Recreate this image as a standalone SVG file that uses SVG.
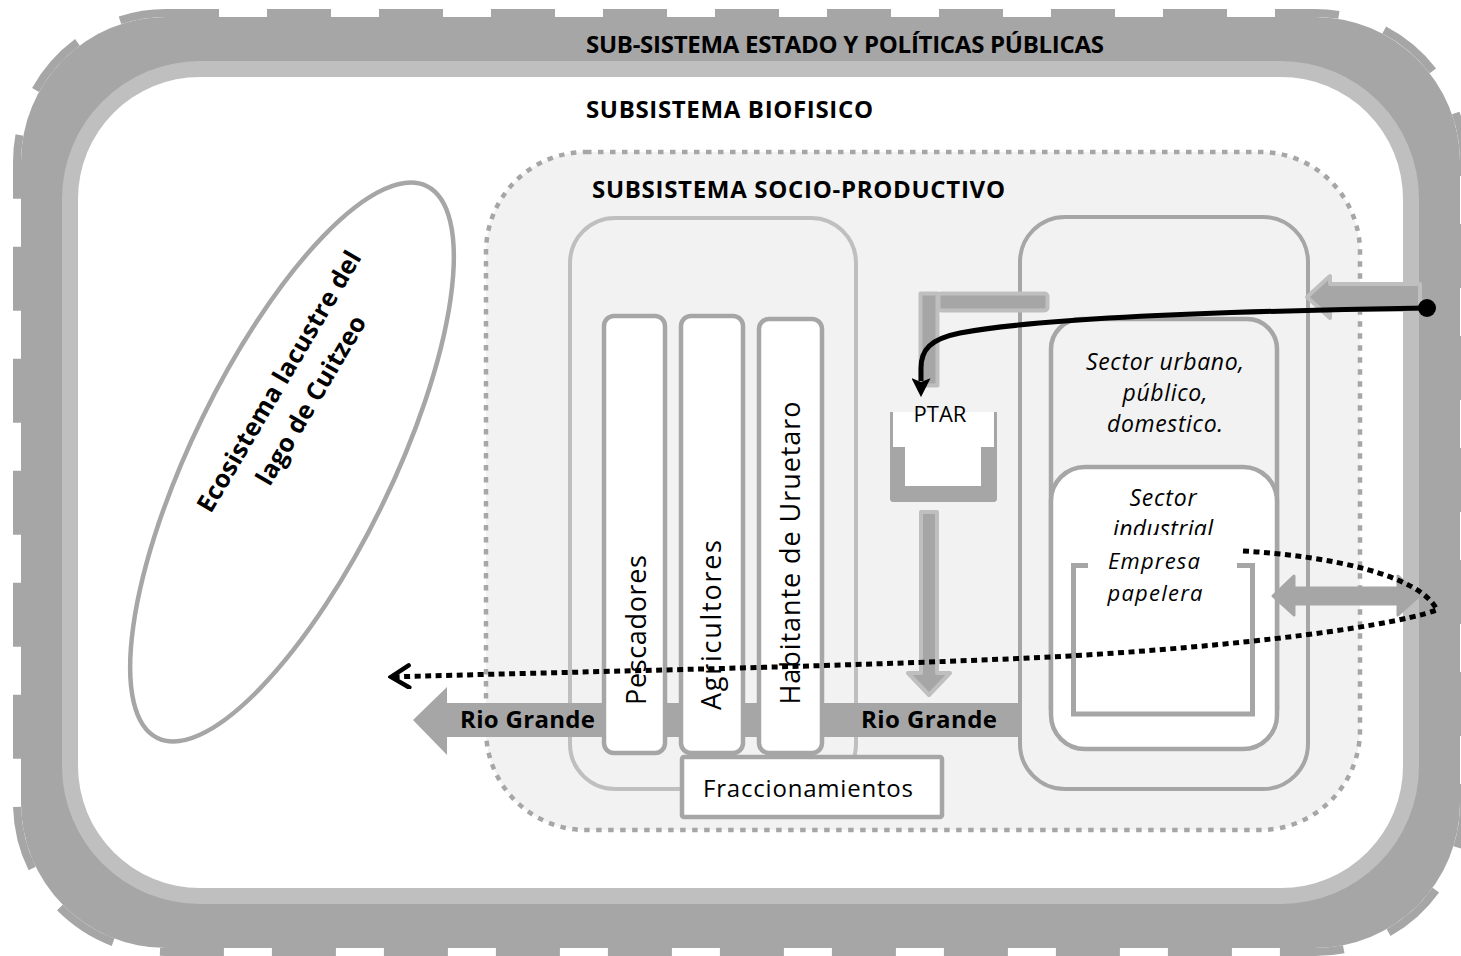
<svg xmlns="http://www.w3.org/2000/svg" width="1461" height="956" viewBox="0 0 1461 956">
<defs>
<style>
.t{font-family:"Open Sans","Noto Sans","DejaVu Sans",sans-serif;fill:#000}
.b{font-weight:700}
.i{font-style:italic}
.c{text-anchor:middle}
.dk{fill:#a6a6a6}
.box{fill:#fff;stroke:#a6a6a6;stroke-width:4.5}
.cont{fill:none;stroke:#a6a6a6;stroke-width:4}
.flow{fill:#a6a6a6;stroke:#bfbfbf;stroke-width:4;stroke-linejoin:round}
</style>
<marker id="arr" viewBox="0 0 10 10" refX="1.5" refY="5" markerWidth="19" markerHeight="19" markerUnits="userSpaceOnUse" orient="auto">
<path d="M0,0 L10,5 L0,10 L2,5 Z" fill="#000"/>
</marker>
<marker id="chev" viewBox="0 0 24 26" refX="22" refY="13" markerWidth="24" markerHeight="26" markerUnits="userSpaceOnUse" orient="auto">
<path d="M3,2 L21,13 L3,24" fill="none" stroke="#000" stroke-width="4.5" stroke-linecap="round" stroke-linejoin="miter"/>
</marker>
<clipPath id="clipInd"><rect x="1050" y="460" width="230" height="75"/></clipPath>
</defs>

<g id="estado">
<rect x="21" y="17" width="1439" height="931" rx="145" fill="#a6a6a6"/>
<rect x="17" y="13" width="1447" height="939" rx="149" fill="none" stroke="#a6a6a6" stroke-width="8" stroke-dasharray="64 48" stroke-dashoffset="11"/>
<rect x="62" y="61" width="1357" height="843" rx="138" fill="#bfbfbf"/>
<text class="t b" x="586" y="53" font-size="24" textLength="518">SUB-SISTEMA ESTADO Y POLÍTICAS PÚBLICAS</text>
</g>

<g id="biofisico">
<rect x="78" y="77" width="1325" height="811" rx="122" fill="#fff"/>
<text class="t b" x="586" y="118" font-size="24" textLength="287">SUBSISTEMA BIOFISICO</text>
</g>

<g id="ecosistema">
<ellipse cx="292" cy="462" rx="307" ry="100" transform="rotate(-64 292 462)" fill="#fff" stroke="#a6a6a6" stroke-width="4.5"/>
<g transform="translate(302,395) rotate(-59.5)">
<text class="t b c" x="0" y="-18" font-size="25" textLength="298">Ecosistema lacustre del</text>
<text class="t b c" x="0" y="19" font-size="25" textLength="192">lago de Cuitzeo</text>
</g>
</g>

<g id="socio-productivo">
<rect x="486" y="152" width="874" height="678" rx="100" fill="#f2f2f2" stroke="#a6a6a6" stroke-width="4.5" stroke-dasharray="5.5 6.5"/>
<text class="t b" x="592" y="198" font-size="24" textLength="413">SUBSISTEMA SOCIO-PRODUCTIVO</text>
</g>

<g id="actores-sociales">
<rect x="570" y="218" width="286" height="571" rx="45" fill="none" stroke="#bfbfbf" stroke-width="4"/>
</g>

<g id="sectores">
<rect x="1020" y="217" width="288" height="572" rx="45" class="cont"/>
</g>

<g id="rio-grande">
<polygon points="413,720 447,687 447,703 1020,703 1020,737 447,737 447,755" class="dk"/>
<text class="t b" x="460" y="728" font-size="24" textLength="135">Rio Grande</text>
<text class="t b" x="861" y="728" font-size="24" textLength="136">Rio Grande</text>
</g>

<g id="pescadores">
<rect x="604" y="316" width="61" height="437" rx="10" class="box"/>
<text class="t c" transform="translate(646,630) rotate(-90)" font-size="27" textLength="150">Pescadores</text>
</g>

<g id="agricultores">
<rect x="681" y="316" width="62" height="437" rx="10" class="box"/>
<text class="t c" transform="translate(721,625) rotate(-90)" font-size="27" textLength="170">Agricultores</text>
</g>

<g id="habitante">
<rect x="759" y="319" width="63" height="434" rx="10" class="box"/>
<text class="t c" transform="translate(800,553) rotate(-90)" font-size="27" textLength="303">Habitante de Uruetaro</text>
</g>

<g id="fraccionamientos">
<rect x="682" y="757" width="260" height="60" rx="2" class="box"/>
<text class="t c" x="808" y="797" font-size="24" textLength="210">Fraccionamientos</text>
</g>

<g id="sector-urbano">
<rect x="1051" y="319" width="226" height="420" rx="30" fill="#f2f2f2" stroke="#a6a6a6" stroke-width="4.5"/>
<text class="t i c" x="1165" y="370" font-size="23" textLength="158">Sector urbano,</text>
<text class="t i c" x="1165" y="401" font-size="23" textLength="85">público,</text>
<text class="t i c" x="1165" y="432" font-size="23" textLength="116">domestico.</text>
</g>

<g id="sector-industrial">
<rect x="1051" y="467" width="226" height="282" rx="34" class="box"/>
<text class="t i c" x="1163" y="506" font-size="23" textLength="67">Sector</text>
<text class="t i c" x="1163" y="537" font-size="23" textLength="100" clip-path="url(#clipInd)">industrial</text>
</g>

<g id="empresa-papelera">
<path d="M1088,565.5 H1073.5 V714 H1252.5 V565.5 H1237" fill="none" stroke="#a6a6a6" stroke-width="5"/>
<text class="t i c" x="1154" y="569" font-size="22" textLength="92">Empresa</text>
<text class="t i c" x="1155" y="601" font-size="22" textLength="95">papelera</text>
</g>

<g id="ptar">
<rect x="890" y="412" width="107" height="90" fill="#fff"/>
<path d="M891.5,412 V447 M995.5,412 V447" stroke="#a6a6a6" stroke-width="3"/>
<path d="M890,447 H905 V486 H981 V447 H997 V499 Q997,502 994,502 H893 Q890,502 890,499 Z" fill="#a6a6a6"/>
<text class="t c" x="940" y="422" font-size="22">PTAR</text>
</g>

<g id="connectors">
<rect x="920.5" y="293.5" width="17" height="92" class="flow"/>
<rect x="938.5" y="293.5" width="109" height="17" rx="3" class="flow"/>
<polygon points="921,512 937,512 937,673 950,673 929,695 908,673 921,673" class="flow"/>
<polygon points="1307,297 1330,276 1330,284 1420,284 1420,310 1330,310 1330,318" class="flow"/>
<polygon points="1273,596 1294,576 1294,588 1398,588 1398,576 1419,596 1398,615 1398,604 1294,604 1294,615" fill="#a6a6a6" stroke="#a6a6a6" stroke-width="3" stroke-linejoin="round"/>
<path d="M1427,308 C1230,311 1040,318 960,333 C930,339 921,350 921,368 L921,381" fill="none" stroke="#000" stroke-width="5" marker-end="url(#arr)"/>
<circle cx="1427" cy="308" r="9" fill="#000"/>
<path d="M1243,551 C1330,556 1420,575 1437,610 C1380,630 1200,650 1030,658 C800,668 560,672 390,677" fill="none" stroke="#000" stroke-width="5" stroke-dasharray="6 4.5" marker-end="url(#chev)"/>
</g>
</svg>
